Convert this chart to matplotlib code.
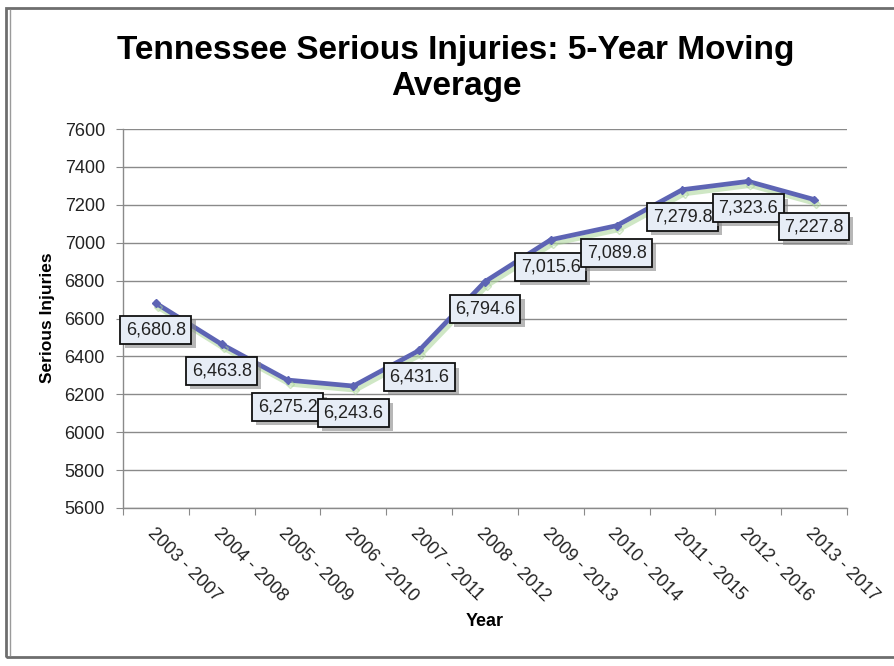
import numpy as np
import matplotlib
matplotlib.use("Agg")
import matplotlib.pyplot as plt
import matplotlib.patheffects as pe
from matplotlib.patches import Rectangle
from matplotlib.lines import Line2D

plt.rcParams['font.family'] = ['Liberation Sans', 'DejaVu Sans']

periods = ["2003 - 2007", "2004 - 2008", "2005 - 2009", "2006 - 2010", "2007 - 2011",
           "2008 - 2012", "2009 - 2013", "2010 - 2014", "2011 - 2015", "2012 - 2016",
           "2013 - 2017"]
injuries = [6680.8, 6463.8, 6275.2, 6243.6, 6431.6, 6794.6, 7015.6, 7089.8, 7279.8, 7323.6, 7227.8]
y_ticks = [5600, 5800, 6000, 6200, 6400, 6600, 6800, 7000, 7200, 7400, 7600]

W, H = 894, 666
fig = plt.figure(figsize=(W / 100, H / 100), dpi=100)
ax = fig.add_axes([123 / W, 1 - 508 / H, (847 - 123) / W, (508 - 129) / H])

x = np.arange(len(periods))
line_color = '#5D64B4'
ax.plot(x, injuries, color=line_color, lw=3.4, marker='D', ms=4, zorder=3,
        path_effects=[pe.SimpleLineShadow(offset=(1.5, -3), shadow_color='#a9d496', alpha=0.55, rho=1),
                      pe.Normal()])

for xi, v in zip(x, injuries):
    t = ax.annotate(f"{v:,.1f}", (xi, v), xytext=(0, -27), textcoords='offset pixels',
                    ha='center', va='center', fontsize=13, color='#222222', zorder=5,
                    bbox=dict(boxstyle='square,pad=0.3', fc='#E7EDF6', ec='#111111', lw=1.3))
    t.get_bbox_patch().set_path_effects([
        pe.SimplePatchShadow(offset=(3, -3), shadow_rgbFace='#888888', alpha=0.6), pe.Normal()])

ax.set_xlim(-0.5, len(periods) - 0.5)
ax.set_ylim(5600, 7600)
ax.set_yticks(y_ticks)
ax.set_yticklabels([str(v) for v in y_ticks], fontsize=13, color='#222222')
ax.yaxis.grid(True, color='#8a8a8a', lw=1)
ax.set_axisbelow(True)

ax.set_xticks(np.arange(-0.5, len(periods), 1.0))
ax.set_xticklabels([])
ax.set_xticks(x, minor=True)
ax.set_xticklabels(periods, minor=True, rotation=-45, ha='left', va='top',
                   rotation_mode='anchor', fontsize=13, color='#222222')
ax.tick_params(axis='x', which='minor', length=0, pad=12)
ax.tick_params(axis='x', which='major', length=5, color='#8a8a8a')
ax.tick_params(axis='y', length=5, color='#8a8a8a', pad=8)

for s in ['top', 'right']:
    ax.spines[s].set_visible(False)
for s in ['left', 'bottom']:
    ax.spines[s].set_color('#8a8a8a')
    ax.spines[s].set_linewidth(1)

fig.text(485 / W, 1 - 622 / H, "Year", ha='center', va='center', fontsize=13, fontweight='bold')
fig.text(48 / W, 1 - 318 / H, "Serious Injuries", ha='center', va='center', rotation=90,
         fontsize=12.5, fontweight='bold')
fig.text(456 / W, 1 - 50 / H, "Tennessee Serious Injuries: 5-Year Moving", ha='center', va='center',
         fontsize=24, fontweight='bold')
fig.text(456 / W, 1 - 87 / H, "Average", ha='center', va='center', fontsize=24, fontweight='bold')

# outer frame
fig.add_artist(Rectangle((6 / W, 1 - 657 / H), (W + 10) / W, (657 - 8) / H,
                         transform=fig.transFigure, fill=False, ec='#6e6e6e', lw=2))
fig.add_artist(Line2D([10 / W, 10 / W], [1 - 655 / H, 1 - 10 / H], transform=fig.transFigure,
                      color='#9a9a9a', lw=1))

fig.savefig("out.png", dpi=100)
